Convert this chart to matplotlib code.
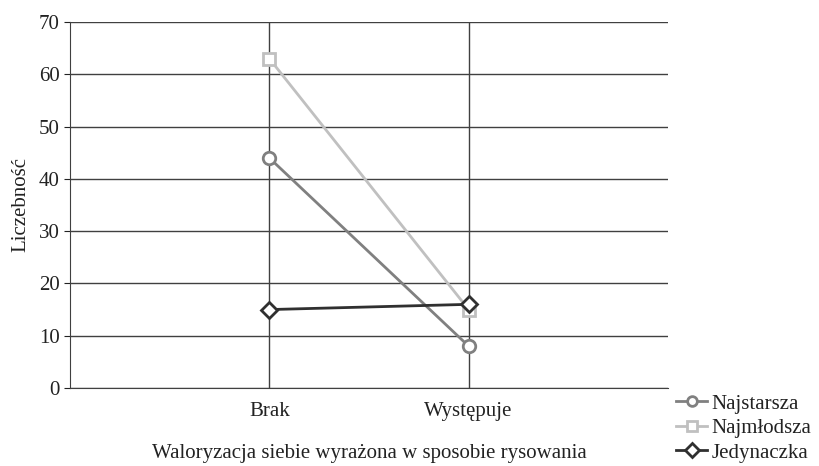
import matplotlib
matplotlib.use("Agg")
import matplotlib.pyplot as plt

plt.rcParams['font.family'] = ['Liberation Serif', 'DejaVu Serif']

categories = ['Brak', 'Występuje']
najstarsza = [44, 8]
najmlodsza = [63, 15]
jedynaczka = [15, 16]
yticks = [0, 10, 20, 30, 40, 50, 60, 70]

fig = plt.figure(figsize=(8.2, 4.66), dpi=100)
ax = fig.add_axes([70 / 820, 1 - 388 / 466, 598 / 820, 366 / 466])

x = [0, 1]
ax.plot(x, najstarsza, color='#808080', lw=2, marker='o', ms=9,
        mfc='white', mec='#808080', mew=2, label='Najstarsza', zorder=3)
ax.plot(x, najmlodsza, color='#c0c0c0', lw=2, marker='s', ms=8,
        mfc='white', mec='#c0c0c0', mew=2, label='Najmłodsza', zorder=3)
ax.plot(x, jedynaczka, color='#303030', lw=2, marker='D', ms=8,
        mfc='white', mec='#303030', mew=2, label='Jedynaczka', zorder=4)

ax.set_xlim(-1, 2)
ax.set_ylim(0, 70)
ax.set_xticks(x)
ax.set_xticklabels(categories)
ax.set_yticks(yticks)
ax.tick_params(axis='both', labelsize=15, colors='#222222', length=4)
ax.tick_params(axis='x', length=0, pad=10)

ax.grid(True, color='#404040', lw=1)
ax.set_axisbelow(True)
for s in ['top', 'right']:
    ax.spines[s].set_visible(False)
ax.spines['left'].set_color('#404040')
ax.spines['bottom'].set_color('#404040')

ax.set_ylabel('Liczebność', fontsize=15, color='#222222', labelpad=6)
ax.set_xlabel('Waloryzacja siebie wyrażona w sposobie rysowania',
              fontsize=15, color='#222222', labelpad=17)

leg = ax.legend(loc='upper left', bbox_to_anchor=(676 / 820, 1 - 394 / 466),
                bbox_transform=fig.transFigure, frameon=False, fontsize=15,
                handlelength=1.5, handletextpad=0.2, labelspacing=0.24,
                borderaxespad=0, borderpad=0)
for t in leg.get_texts():
    t.set_color('#222222')
for h in leg.legend_handles:
    h.set_markersize(7)

fig.savefig('out.png', dpi=100)
